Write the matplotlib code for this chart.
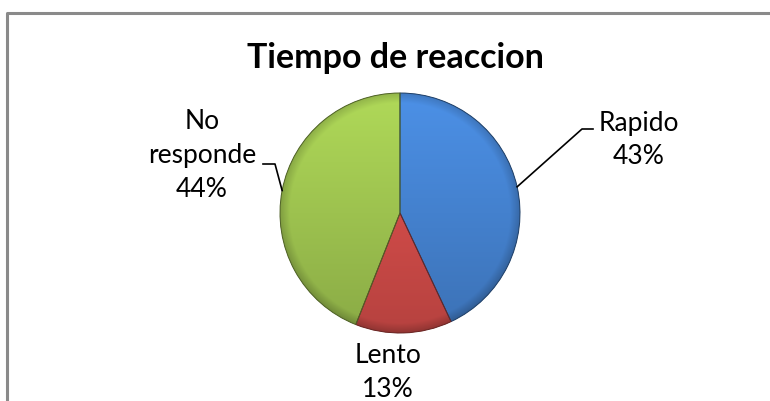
import numpy as np
import matplotlib.pyplot as plt
from matplotlib.colors import to_rgb
from matplotlib.patches import PathPatch

plt.rcParams['font.family'] = ['Lato', 'DejaVu Sans']

title = "Tiempo de reaccion"
categories = ["Rapido", "Lento", "No\nresponde"]
values = [43, 13, 44]
colors = ["#4481CE", "#CF4B48", "#9DC24F"]

W, H = 770, 402
fig = plt.figure(figsize=(W / 100, H / 100), dpi=100)
ax = fig.add_axes([0, 0, 1, 1])

cx, cy, R = 400, H - 214, 120
wedges, _ = ax.pie(values, colors=colors, startangle=90, counterclock=False,
                   center=(cx, cy), radius=R,
                   wedgeprops=dict(edgecolor='none'))

# shaded fill (vertical gradient + darker rim), clipped to each wedge
n = 300
xs = np.linspace(-1, 1, n)
X, Y = np.meshgrid(xs, xs[::-1])
rr = np.sqrt(X ** 2 + Y ** 2)
shade = 1.0 + 0.12 * Y - 0.18 * np.clip((rr - 0.92) / 0.08, 0, 1)
for w, c in zip(wedges, colors):
    rgb = np.array(to_rgb(c))
    img = np.clip(rgb[None, None, :] * shade[:, :, None], 0, 1)
    im = ax.imshow(img, extent=[cx - R, cx + R, cy - R, cy + R],
                   origin='upper', zorder=2, interpolation='bilinear')
    im.set_clip_path(w)
    # thin dark line along the slice edges
    ax.add_patch(PathPatch(w.get_path(), transform=w.get_transform(),
                           fill=False, lw=0.7, ec=tuple(rgb * 0.5), zorder=3))

# labels
total = sum(values)
angles = []
acc = 0
for v in values:
    mid = 90 - (acc + v / 2) / total * 360
    angles.append(np.deg2rad(mid))
    acc += v

label_pos = [(639, H - 140), (388, H - 373), (202, H - 156)]
for cat, v, (tx, ty) in zip(categories, values, label_pos):
    ax.text(tx, ty, f"{cat}\n{round(100 * v / total)}%", ha='center',
            va='center', fontsize=19, linespacing=1.45, zorder=5)

# leader lines for Rapido and No responde
a = angles[0]
p0 = (cx + R * np.cos(a), cy + R * np.sin(a))
ax.plot([p0[0], 582, 593], [p0[1], H - 130, H - 130], color='black', lw=1.2, zorder=4)
a = angles[2]
p2 = (cx + R * np.cos(a), cy + R * np.sin(a))
ax.plot([p2[0], 275, 263], [p2[1], H - 165, H - 165], color='black', lw=1.2, zorder=4)

ax.text(395, H - 58, title, ha='center', va='center', fontsize=24.5,
        fontweight='bold', zorder=5)

# chart border (left and top visible)
ax.plot([6.5, 6.5, W + 5], [-5, H - 13.5, H - 13.5], color='#8a8a8a', lw=2.2,
        zorder=1, clip_on=False)

ax.set_xlim(0, W)
ax.set_ylim(0, H)
ax.set_aspect('equal')
ax.axis('off')

fig.savefig("out.png", dpi=100, facecolor='white')
